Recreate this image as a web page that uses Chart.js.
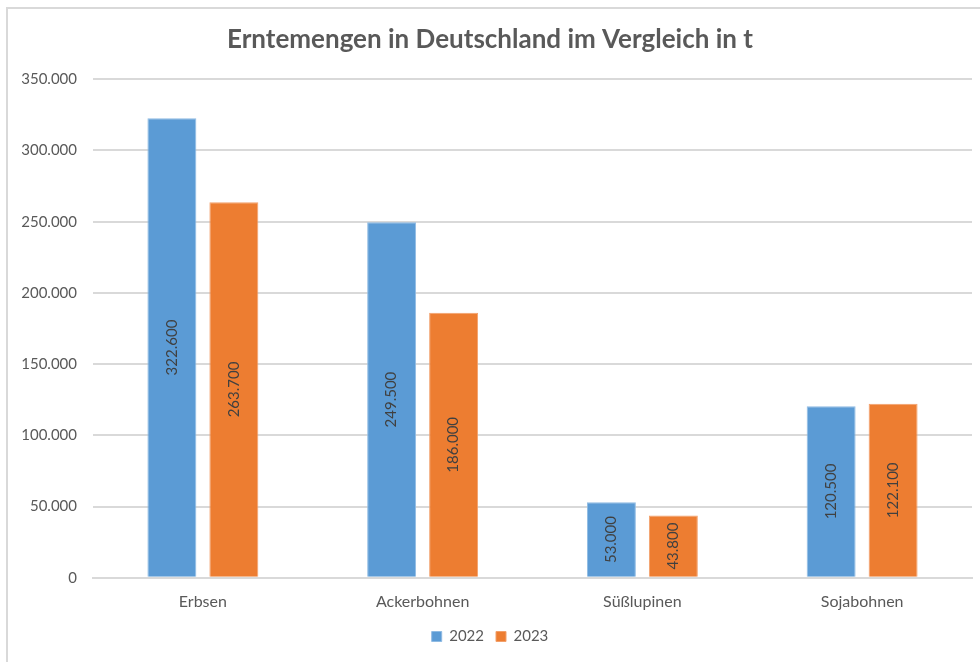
<!DOCTYPE html>
<html>
<head>
<meta charset="utf-8">
<script src="https://cdn.jsdelivr.net/npm/chart.js@4"></script>
<style>
  html, body { margin: 0; padding: 0; background: #fff; overflow: hidden; }
  .frame { position: absolute; left: 6px; top: 7px; width: 1100px; height: 800px; border: 2px solid #d9d9d9; }
  .wrap { position: absolute; left: 0; top: 0; width: 980px; height: 662px; }
</style>
</head>
<body>
<div class="frame"></div>
<div class="wrap"><canvas id="harvestChart"></canvas></div>
<script>
const categories = ['Erbsen', 'Ackerbohnen', 'Süßlupinen', 'Sojabohnen'];
const values2022 = [322600, 249500, 53000, 120500];
const values2023 = [263700, 186000, 43800, 122100];
const yTicks = [0, 50000, 100000, 150000, 200000, 250000, 300000, 350000];

const fmt = v => v.toLocaleString('de-DE');

// draws the rotated value labels in the middle of each bar
const barValueLabels = {
    id: 'barValueLabels',
    afterDatasetsDraw(chart) {
        const ctx = chart.ctx;
        ctx.save();
        ctx.font = '15px Lato';
        ctx.fillStyle = '#404040';
        ctx.textAlign = 'center';
        ctx.textBaseline = 'middle';
        chart.data.datasets.forEach((ds, i) => {
            chart.getDatasetMeta(i).data.forEach((bar, j) => {
                const mid = (bar.y + bar.base) / 2;
                ctx.save();
                ctx.translate(bar.x, mid);
                ctx.rotate(-Math.PI / 2);
                ctx.fillText(fmt(ds.data[j]), 0, 0);
                ctx.restore();
            });
        });
        ctx.restore();
    }
};

function createChart(elementId) {
    const ctx = document.getElementById(elementId);
    if (!ctx) {
        console.error(`Element with id ${elementId} not found.`);
        return;
    }
    new Chart(ctx, {
        type: 'bar',
        data: {
            labels: categories,
            datasets: [
                { label: '2022', data: values2022, backgroundColor: '#5b9bd5', borderColor: '#8fbbe3', borderWidth: 1 },
                { label: '2023', data: values2023, backgroundColor: '#ed7d31', borderColor: '#f2a06b', borderWidth: 1 }
            ]
        },
        options: {
            responsive: false,
            animation: false,
            layout: { padding: { top: 10, left: 8, right: 8, bottom: 8 } },
            datasets: { bar: { categoryPercentage: 0.564, barPercentage: 0.79 } },
            plugins: {
                title: {
                    display: true,
                    text: 'Erntemengen in Deutschland im Vergleich in t',
                    color: '#595959',
                    font: { family: 'Lato', size: 26, weight: 'bold' },
                    padding: { top: 14, bottom: 24 }
                },
                legend: {
                    position: 'bottom',
                    labels: {
                        color: '#595959',
                        font: { family: 'Lato', size: 15 },
                        boxWidth: 10,
                        boxHeight: 10,
                        padding: 12
                    }
                },
                tooltip: { enabled: false }
            },
            scales: {
                x: {
                    grid: { display: false },
                    border: { color: '#d9d9d9', width: 2 },
                    ticks: { color: '#595959', font: { family: 'Lato', size: 16 }, padding: 6 }
                },
                y: {
                    min: 0,
                    max: 350000,
                    afterFit: s => { s.width = 85; },
                    afterBuildTicks: s => { s.ticks = yTicks.map(v => ({ value: v })); },
                    grid: { color: '#d9d9d9', lineWidth: 2, drawTicks: false },
                    border: { display: false },
                    ticks: {
                        color: '#595959',
                        font: { family: 'Lato', size: 15 },
                        padding: 16,
                        callback: v => fmt(v)
                    }
                }
            }
        },
        plugins: [barValueLabels]
    });
}

const canvas = document.getElementById('harvestChart');
canvas.width = 980;
canvas.height = 662;
createChart('harvestChart');
</script>
</body>
</html>
